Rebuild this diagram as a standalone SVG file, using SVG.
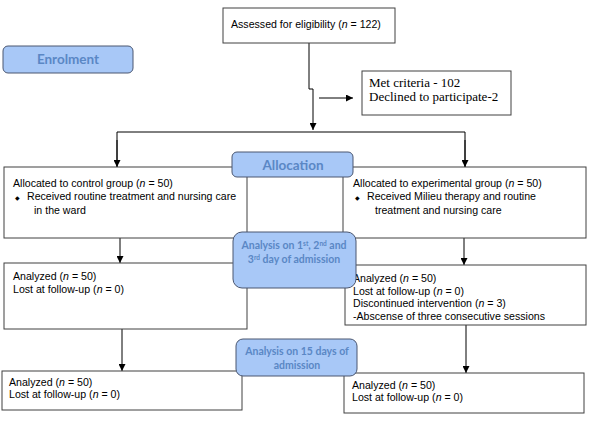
<svg xmlns="http://www.w3.org/2000/svg" width="589" height="423" viewBox="0 0 589 423">
<defs>
<marker id="arr" viewBox="0 0 8 8" refX="8" refY="4" markerWidth="7" markerHeight="7" markerUnits="userSpaceOnUse" orient="auto">
<path d="M0,0 L8,4 L0,8 Z" fill="#000"/>
</marker>
</defs>
<style>
.box{fill:#fff;stroke:#404040;stroke-width:1}
.blue{fill:#a8c8f7;stroke:#4a5670;stroke-width:1}
.t{font-family:"Liberation Sans",Arial,sans-serif;font-size:10.6px;fill:#000}
.s{font-family:"Liberation Serif","Times New Roman",serif;font-size:13px;fill:#000}
.b{font-family:Lato,"Open Sans",sans-serif;font-weight:bold;fill:#5a87c5;text-anchor:middle}
.c{fill:none;stroke:#000;stroke-width:1}
.i{font-style:italic}
</style>
<rect width="589" height="423" fill="#fff"/>
<g id="connectors">
<polyline class="c" points="309,43 309,89 313,89 313,130" marker-end="url(#arr)"/>
<line class="c" x1="319" y1="98" x2="353" y2="98" marker-end="url(#arr)"/>
<polyline class="c" points="117,167 117,132 465,132 465,167"/>
<line class="c" x1="117" y1="140" x2="117" y2="167" marker-end="url(#arr)"/>
<line class="c" x1="465" y1="140" x2="465" y2="167" marker-end="url(#arr)"/>
<line class="c" x1="120" y1="238" x2="120" y2="263" marker-end="url(#arr)"/>
<line class="c" x1="464" y1="238" x2="464" y2="265" marker-end="url(#arr)"/>
<line class="c" x1="122" y1="329" x2="122" y2="371" marker-end="url(#arr)"/>
<line class="c" x1="466" y1="325" x2="466" y2="373" marker-end="url(#arr)"/>
</g>
<g id="assessed">
<rect class="box" x="223" y="8" width="172" height="35"/>
<text class="t" x="231" y="28">Assessed for eligibility (<tspan class="i">n</tspan> = 122)</text>
</g>
<g id="enrolment">
<rect class="blue" x="3" y="46" width="130" height="27" rx="5"/>
<text class="b" x="68" y="64" font-size="13.5">Enrolment</text>
</g>
<g id="met">
<rect class="box" x="362" y="71" width="149" height="44"/>
<text class="s" x="369" y="87">Met criteria - 102</text>
<text class="s" x="369" y="101">Declined to participate-2</text>
</g>
<g id="control">
<rect class="box" x="4" y="167" width="243" height="71"/>
<text class="t" x="13" y="187">Allocated to control group (<tspan class="i">n</tspan> = 50)</text>
<text class="t" x="15" y="200"><tspan font-size="6">◆</tspan><tspan x="27">Received routine treatment and nursing care</tspan></text>
<text class="t" x="34" y="214">in the ward</text>
</g>
<g id="experimental">
<rect class="box" x="343" y="167" width="243" height="71"/>
<text class="t" x="353" y="187">Allocated to experimental group (<tspan class="i">n</tspan> = 50)</text>
<text class="t" x="355" y="200"><tspan font-size="6">◆</tspan><tspan x="367">Received Milieu therapy and routine</tspan></text>
<text class="t" x="375" y="214">treatment and nursing care</text>
</g>
<g id="control-analyzed">
<rect class="box" x="4" y="263" width="243" height="66"/>
<text class="t" x="13" y="280">Analyzed (<tspan class="i">n</tspan> = 50)</text>
<text class="t" x="13" y="293">Lost at follow-up (<tspan class="i">n</tspan> = 0)</text>
</g>
<g id="exp-analyzed">
<rect class="box" x="345" y="265" width="241" height="60"/>
<text class="t" x="353" y="282">Analyzed (<tspan class="i">n</tspan> = 50)</text>
<text class="t" x="353" y="295">Lost at follow-up (<tspan class="i">n</tspan> = 0)</text>
<text class="t" x="353" y="307">Discontinued intervention (<tspan class="i">n</tspan> = 3)</text>
<text class="t" x="353" y="320">-Abscense of three consecutive sessions</text>
</g>
<g id="control-final">
<rect class="box" x="2" y="371" width="240" height="39"/>
<text class="t" x="9" y="386">Analyzed (<tspan class="i">n</tspan> = 50)</text>
<text class="t" x="9" y="398">Lost at follow-up (<tspan class="i">n</tspan> = 0)</text>
</g>
<g id="exp-final">
<rect class="box" x="344" y="373" width="240" height="40"/>
<text class="t" x="352" y="389">Analyzed (<tspan class="i">n</tspan> = 50)</text>
<text class="t" x="352" y="401">Lost at follow-up (<tspan class="i">n</tspan> = 0)</text>
</g>
<g id="allocation">
<rect class="blue" x="232" y="152" width="121" height="25" rx="5"/>
<text class="b" x="293" y="170" font-size="13.5">Allocation</text>
</g>
<g id="analysis1">
<rect class="blue" x="233" y="232" width="123" height="56" rx="9"/>
<text class="b" x="294" y="249" font-size="10.5">Analysis  on 1<tspan font-size="6.5" dy="-3">st</tspan><tspan dy="3">, 2</tspan><tspan font-size="6.5" dy="-3">nd</tspan><tspan dy="3"> and</tspan></text>
<text class="b" x="294" y="263" font-size="10.5">3<tspan font-size="6.5" dy="-3">rd</tspan><tspan dy="3"> day of admission</tspan></text>
</g>
<g id="analysis2">
<rect class="blue" x="236" y="339" width="121" height="37" rx="7"/>
<text class="b" x="297" y="355" font-size="10.5">Analysis  on 15 days of</text>
<text class="b" x="297" y="369" font-size="10.5">admission</text>
</g>
</svg>
